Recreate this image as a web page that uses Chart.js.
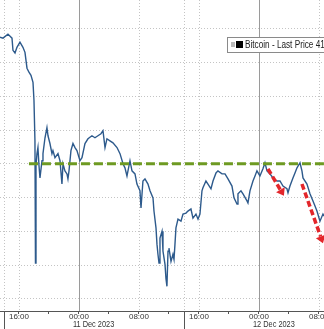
<!DOCTYPE html>
<html>
<head>
<meta charset="utf-8">
<script src="https://cdn.jsdelivr.net/npm/chart.js@4.4.0/dist/chart.umd.min.js"></script>
<style>
  html, body { margin: 0; padding: 0; background: #fff; }
  canvas { display: block; }
</style>
</head>
<body>
<canvas id="btcChart" width="324" height="329"></canvas>
<script>
// hours relative to 11 Dec 2023 00:00
const hours = [-10.53, -10.13, -9.47, -8.93, -8.8, -8.53, -8.27, -7.87, -7.47, -7.2, -6.93, -6.67, -6.4, -6.13, -6.0, -5.87, -5.8, -5.73, -5.6, -5.47, -5.33, -5.2, -4.93, -4.8, -4.53, -4.27, -4.13, -3.87, -3.6, -3.47, -3.2, -2.8, -2.53, -2.27, -2.13, -1.87, -1.6, -1.47, -1.33, -1.07, -0.8, -0.53, -0.27, 0.13, 0.4, 0.8, 1.2, 1.73, 2.13, 2.53, 2.93, 3.2, 3.47, 3.73, 4.13, 4.53, 5.07, 5.47, 5.87, 6.13, 6.4, 6.8, 7.07, 7.47, 7.73, 8.13, 8.27, 8.53, 8.8, 9.2, 9.47, 9.87, 10.0, 10.27, 10.4, 10.53, 10.67, 10.8, 11.07, 11.2, 11.47, 11.6, 11.73, 11.87, 12.0, 12.27, 12.53, 12.67, 12.8, 12.93, 13.2, 13.6, 13.87, 14.27, 14.53, 14.93, 15.2, 15.6, 15.87, 16.13, 16.4, 16.53, 16.93, 17.2, 17.6, 17.87, 18.27, 18.53, 19.07, 19.47, 19.87, 20.4, 20.67, 21.07, 21.2, 21.6, 21.87, 22.4, 22.53, 22.8, 23.2, 23.47, 23.73, 24.13, 24.53, 24.8, 25.07, 25.47, 25.87, 26.4, 26.8, 27.2, 27.73, 27.87, 28.13, 28.53, 28.8, 29.07, 29.47, 29.73, 29.87, 30.4, 30.8, 31.2, 31.47, 31.73, 32.13, 32.53, 32.67];
const prices = [43875, 43860, 43920, 43860, 43680, 43640, 43725, 43800, 43725, 43650, 43415, 43355, 43310, 43205, 42940, 42340, 40530, 41970, 42150, 42240, 41970, 41790, 42045, 42150, 42385, 42535, 42415, 42300, 42150, 42195, 42090, 42150, 42045, 41700, 42000, 41895, 41850, 41775, 41895, 42195, 42300, 42240, 42195, 42045, 42090, 42300, 42370, 42415, 42385, 42415, 42445, 42490, 42240, 42370, 42340, 42310, 42240, 42150, 42000, 41940, 41820, 42045, 41895, 41850, 41700, 41600, 41345, 41745, 41775, 41700, 41600, 41495, 41300, 41050, 40810, 40660, 40530, 40900, 41000, 40705, 40510, 40300, 40185, 40705, 40750, 40555, 40660, 40585, 40810, 41050, 41180, 41150, 41255, 41270, 41300, 41330, 41195, 41255, 41180, 41255, 41600, 41645, 41745, 41700, 41630, 41745, 41865, 41895, 41850, 41850, 41775, 41670, 41495, 41405, 41555, 41600, 41555, 41450, 41420, 41600, 41745, 41820, 41895, 41820, 41925, 42015, 41895, 41850, 41790, 41745, 41745, 41670, 41630, 41570, 41670, 41790, 41865, 41940, 42015, 41895, 41790, 41700, 41555, 41450, 41375, 41300, 41150, 41255, 41225];

const supportLevel = 42000;
const supportFrom = -6.67;
const yTicks = [40000, 40500, 41000, 41500, 42000, 42500, 43000, 43500, 44000];
const xTicks = [-8, -4, 0, 4, 8, 12, 16, 20, 24, 28, 32];
const tickLabels = { '-8': '16:00', '0': '00:00', '8': '08:00', '16': '16:00', '24': '00:00', '32': '08:00' };
const dateLabels = [[0, '11 Dec 2023'], [24, '12 Dec 2023']];
const solidLines = [0, 24];
const dottedLines = [-10, -8, 8, 14, 16, 32];
const sessionTicks = [-10, 14];
// red arrows: [fromHour, fromPrice, toHour, toPrice]
const arrows = [[25.2, 41925, 27.33, 41525], [29.73, 41700, 32.53, 40825]];
const legendText = 'Bitcoin - Last Price 41226';

const sans = "'Liberation Sans', Arial, sans-serif";

// draw text squeezed horizontally, the terminal font is a narrow one
function narrowText(ctx, txt, x, y, size, squeeze) {
    ctx.save();
    ctx.translate(x, y);
    ctx.scale(squeeze, 1);
    ctx.font = size + 'px ' + sans;
    ctx.fillText(txt, 0, 0);
    ctx.restore();
}

const decorations = {
    id: 'decorations',
    beforeDatasetsDraw(chart) {
        const ctx = chart.ctx, x = chart.scales.x, a = chart.chartArea;
        ctx.save();
        ctx.lineWidth = 1;
        ctx.strokeStyle = '#c4c4c4';
        ctx.setLineDash([1, 2]);
        for (const h of dottedLines) {
            const px = Math.round(x.getPixelForValue(h)) + 0.5;
            ctx.beginPath(); ctx.moveTo(px, a.top); ctx.lineTo(px, a.bottom); ctx.stroke();
        }
        ctx.setLineDash([]);
        ctx.strokeStyle = '#9a9a9a';
        for (const h of solidLines) {
            const px = Math.round(x.getPixelForValue(h)) + 0.5;
            ctx.beginPath(); ctx.moveTo(px, a.top); ctx.lineTo(px, a.bottom); ctx.stroke();
        }
        ctx.restore();
    },
    afterDatasetsDraw(chart) {
        const ctx = chart.ctx, x = chart.scales.x, y = chart.scales.y;
        ctx.save();
        ctx.strokeStyle = '#e3262b';
        ctx.fillStyle = '#e3262b';
        ctx.lineWidth = 3.5;
        for (const [h0, p0, h1, p1] of arrows) {
            const x0 = x.getPixelForValue(h0), y0 = y.getPixelForValue(p0);
            const x1 = x.getPixelForValue(h1), y1 = y.getPixelForValue(p1);
            const ang = Math.atan2(y1 - y0, x1 - x0);
            const bx = x1 - 7 * Math.cos(ang), by = y1 - 7 * Math.sin(ang);
            ctx.setLineDash([6, 3]);
            ctx.beginPath(); ctx.moveTo(x0, y0); ctx.lineTo(bx, by); ctx.stroke();
            ctx.setLineDash([]);
            ctx.beginPath();
            ctx.moveTo(x1, y1);
            ctx.lineTo(bx + 5 * Math.sin(ang), by - 5 * Math.cos(ang));
            ctx.lineTo(bx - 5 * Math.sin(ang), by + 5 * Math.cos(ang));
            ctx.closePath(); ctx.fill();
        }
        ctx.restore();
    },
    afterDraw(chart) {
        const ctx = chart.ctx, x = chart.scales.x, a = chart.chartArea;
        ctx.save();
        // session separators below the axis
        ctx.strokeStyle = '#555';
        ctx.lineWidth = 1;
        for (const h of sessionTicks) {
            const px = Math.round(x.getPixelForValue(h)) + 0.5;
            ctx.beginPath(); ctx.moveTo(px, a.bottom); ctx.lineTo(px, chart.height); ctx.stroke();
        }
        // dates
        ctx.fillStyle = '#333';
        ctx.textAlign = 'left';
        ctx.textBaseline = 'middle';
        for (const [h, txt] of dateLabels) {
            narrowText(ctx, txt, x.getPixelForValue(h) - 6, 324.5, 9, 0.82);
        }
        // legend box
        ctx.fillStyle = '#fff';
        ctx.fillRect(227.5, 37.5, 110, 15);
        ctx.strokeStyle = '#8a8a8a';
        ctx.strokeRect(227.5, 37.5, 110, 15);
        ctx.fillStyle = '#bbb';
        ctx.fillRect(231, 42, 4, 5);
        ctx.fillStyle = '#000';
        ctx.fillRect(236, 41, 7, 7);
        ctx.fillStyle = '#222';
        narrowText(ctx, legendText, 245, 45.5, 10, 0.82);
        ctx.restore();
    }
};

new Chart(document.getElementById('btcChart'), {
    type: 'line',
    data: {
        datasets: [{
            label: 'Support',
            data: [{ x: supportFrom, y: supportLevel }, { x: 33, y: supportLevel }],
            borderColor: '#6e9a22',
            borderWidth: 3,
            borderDash: [9, 4],
            pointRadius: 0
        }, {
            label: 'Bitcoin',
            data: hours.map((h, i) => ({ x: h, y: prices[i] })),
            borderColor: '#2d5a8c',
            borderWidth: 1.4,
            pointRadius: 0,
            tension: 0
        }]
    },
    options: {
        responsive: false,
        animation: false,
        devicePixelRatio: 1,
        layout: { padding: 0 },
        plugins: {
            legend: { display: false },
            tooltip: { enabled: false }
        },
        scales: {
            x: {
                type: 'linear',
                min: -10.53,
                max: 32.67,
                afterBuildTicks: (s) => { s.ticks = xTicks.map(v => ({ value: v })); },
                afterFit: (s) => { s.height = 18; s.paddingLeft = 0; s.paddingRight = 0; },
                ticks: {
                    autoSkip: false,
                    maxRotation: 0,
                    padding: -2,
                    color: '#333',
                    font: { family: sans, size: 8 },
                    callback: (v) => tickLabels[String(v)] || ''
                },
                grid: { drawOnChartArea: false, tickLength: 3, tickColor: '#555' },
                border: { color: '#555' }
            },
            y: {
                min: 39820,
                max: 44425,
                afterBuildTicks: (s) => { s.ticks = yTicks.map(v => ({ value: v })); },
                afterFit: (s) => { s.width = 0; },
                ticks: { display: false },
                grid: { color: '#c4c4c4', drawTicks: false },
                border: { display: false, dash: [1, 2] }
            }
        }
    },
    plugins: [decorations]
});
</script>
</body>
</html>
